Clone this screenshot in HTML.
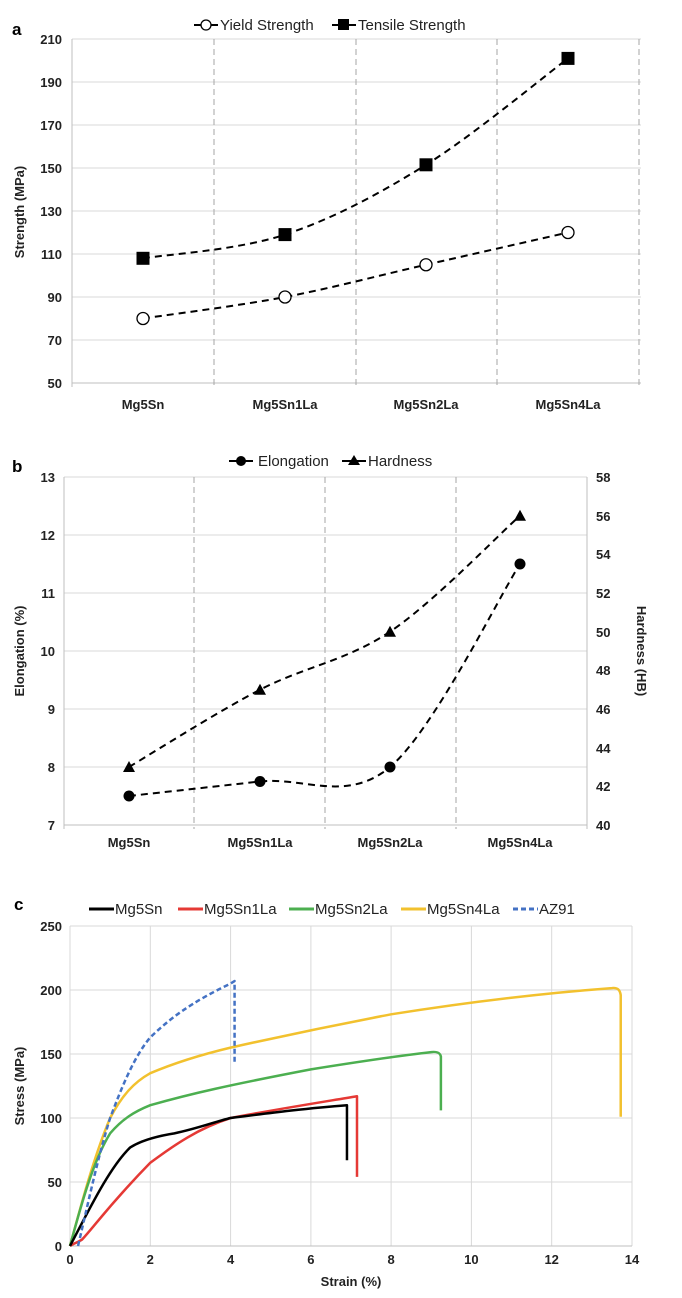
<!DOCTYPE html>
<html><head><meta charset="utf-8"><style>
html,body{margin:0;padding:0;background:#fff;}
svg{display:block;font-family:"Liberation Sans",sans-serif;}
.t{font-size:13px;font-weight:bold;fill:#222;}
.g{stroke:#d9d9d9;stroke-width:1;}
.v{stroke:#a6a6a6;stroke-width:1;stroke-dasharray:6,4;}
.d{fill:none;stroke:#000;stroke-width:2;stroke-dasharray:7,5;}
</style></head><body>
<svg width="682" height="1298" viewBox="0 0 682 1298">
<!-- Chart a -->
<text x="12" y="35" font-size="17" font-weight="bold">a</text>
<g class="g">
<line x1="72" y1="39" x2="641" y2="39"/><line x1="72" y1="82" x2="641" y2="82"/><line x1="72" y1="125" x2="641" y2="125"/><line x1="72" y1="168" x2="641" y2="168"/><line x1="72" y1="211" x2="641" y2="211"/><line x1="72" y1="254" x2="641" y2="254"/><line x1="72" y1="297" x2="641" y2="297"/><line x1="72" y1="340" x2="641" y2="340"/>
</g>
<line x1="72" y1="383" x2="641" y2="383" stroke="#bfbfbf"/>
<line x1="72" y1="39" x2="72" y2="387" stroke="#bfbfbf"/>
<g class="v"><line x1="214" y1="39" x2="214" y2="387"/><line x1="356" y1="39" x2="356" y2="387"/><line x1="497" y1="39" x2="497" y2="387"/><line x1="639" y1="39" x2="639" y2="387"/></g>
<g class="t" text-anchor="end">
<text x="62" y="44">210</text><text x="62" y="87">190</text><text x="62" y="130">170</text><text x="62" y="173">150</text><text x="62" y="216">130</text><text x="62" y="259">110</text><text x="62" y="302">90</text><text x="62" y="345">70</text><text x="62" y="388">50</text>
</g>
<g class="t" text-anchor="middle">
<text x="143" y="409">Mg5Sn</text><text x="285" y="409">Mg5Sn1La</text><text x="426" y="409">Mg5Sn2La</text><text x="568" y="409">Mg5Sn4La</text>
</g>
<text class="t" transform="translate(24,212) rotate(-90)" text-anchor="middle">Strength (MPa)</text>
<path class="d" d="M143,258.3 C166.7,254.4 237.8,250.2 285,234.6 C332.2,219 378.8,194.2 426,164.8 C473.2,135.4 544.3,76.1 568,58.4"/>
<path class="d" d="M143,318.5 C166.7,314.9 237.8,306 285,297 C332.2,288 378.8,275.5 426,264.75 C473.2,254 544.3,237.9 568,232.5"/>
<g fill="#000"><rect x="136.5" y="251.8" width="13" height="13"/><rect x="278.5" y="228.1" width="13" height="13"/><rect x="419.5" y="158.3" width="13" height="13"/><rect x="561.5" y="51.9" width="13" height="13"/></g>
<g fill="#fff" stroke="#000" stroke-width="1.3"><circle cx="143" cy="318.5" r="6"/><circle cx="285" cy="297" r="6"/><circle cx="426" cy="264.75" r="6"/><circle cx="568" cy="232.5" r="6"/></g>
<g font-size="15" fill="#222">
<line x1="194" y1="25" x2="218" y2="25" stroke="#000" stroke-width="2"/><circle cx="206" cy="25" r="5" fill="#fff" stroke="#000" stroke-width="1.3"/><text x="220" y="30">Yield Strength</text>
<line x1="332" y1="25" x2="356" y2="25" stroke="#000" stroke-width="2"/><rect x="338" y="19" width="11" height="11" fill="#000"/><text x="358" y="30">Tensile Strength</text>
</g>

<!-- Chart b -->
<text x="12" y="472" font-size="17" font-weight="bold">b</text>
<g class="g">
<line x1="64" y1="477" x2="587" y2="477"/><line x1="64" y1="535" x2="587" y2="535"/><line x1="64" y1="593" x2="587" y2="593"/><line x1="64" y1="651" x2="587" y2="651"/><line x1="64" y1="709" x2="587" y2="709"/><line x1="64" y1="767" x2="587" y2="767"/>
</g>
<line x1="64" y1="825" x2="587" y2="825" stroke="#bfbfbf"/>
<line x1="64" y1="477" x2="64" y2="829" stroke="#bfbfbf"/>
<line x1="587" y1="477" x2="587" y2="829" stroke="#bfbfbf"/>
<g class="v"><line x1="194" y1="477" x2="194" y2="829"/><line x1="325" y1="477" x2="325" y2="829"/><line x1="456" y1="477" x2="456" y2="829"/></g>
<g class="t" text-anchor="end">
<text x="55" y="482">13</text><text x="55" y="540">12</text><text x="55" y="598">11</text><text x="55" y="656">10</text><text x="55" y="714">9</text><text x="55" y="772">8</text><text x="55" y="830">7</text>
</g>
<g class="t">
<text x="596" y="482">58</text><text x="596" y="521">56</text><text x="596" y="559">54</text><text x="596" y="598">52</text><text x="596" y="637">50</text><text x="596" y="675">48</text><text x="596" y="714">46</text><text x="596" y="753">44</text><text x="596" y="791">42</text><text x="596" y="830">40</text>
</g>
<g class="t" text-anchor="middle">
<text x="129" y="847">Mg5Sn</text><text x="260" y="847">Mg5Sn1La</text><text x="390" y="847">Mg5Sn2La</text><text x="520" y="847">Mg5Sn4La</text>
</g>
<text class="t" transform="translate(24,651) rotate(-90)" text-anchor="middle">Elongation (%)</text>
<text class="t" transform="translate(637,651) rotate(90)" text-anchor="middle">Hardness (HB)</text>
<path class="d" d="M129,796 C150.8,793.6 216.5,786.3 260,781.5 C303.5,776.7 346.7,803.3 390,767 C433.3,730.8 498.3,597.8 520,564"/>
<path class="d" d="M129,767 C150.8,754.1 216.5,712.3 260,689.7 C303.5,667.1 346.7,660.7 390,631.7 C433.3,602.7 498.3,535 520,515.7"/>
<g fill="#000"><circle cx="129" cy="796" r="5.5"/><circle cx="260" cy="781.5" r="5.5"/><circle cx="390" cy="767" r="5.5"/><circle cx="520" cy="564" r="5.5"/>
<polygon points="129,761 123,772 135,772"/><polygon points="260,683.7 254,694.7 266,694.7"/><polygon points="390,625.7 384,636.7 396,636.7"/><polygon points="520,509.7 514,520.7 526,520.7"/></g>
<g font-size="15" fill="#222">
<line x1="229" y1="461" x2="253" y2="461" stroke="#000" stroke-width="2"/><circle cx="241" cy="461" r="5" fill="#000"/><text x="258" y="466">Elongation</text>
<line x1="342" y1="461" x2="366" y2="461" stroke="#000" stroke-width="2"/><polygon points="354,455 348,465 360,465" fill="#000"/><text x="368" y="466">Hardness</text>
</g>

<!-- Chart c -->
<text x="14" y="910" font-size="17" font-weight="bold">c</text>
<g class="g">
<line x1="70" y1="926" x2="632" y2="926"/><line x1="70" y1="990" x2="632" y2="990"/><line x1="70" y1="1054" x2="632" y2="1054"/><line x1="70" y1="1118" x2="632" y2="1118"/><line x1="70" y1="1182" x2="632" y2="1182"/>
<line x1="150.3" y1="926" x2="150.3" y2="1246"/><line x1="230.6" y1="926" x2="230.6" y2="1246"/><line x1="310.9" y1="926" x2="310.9" y2="1246"/><line x1="391.1" y1="926" x2="391.1" y2="1246"/><line x1="471.4" y1="926" x2="471.4" y2="1246"/><line x1="551.7" y1="926" x2="551.7" y2="1246"/><line x1="632" y1="926" x2="632" y2="1246"/>
</g>
<line x1="70" y1="1246" x2="632" y2="1246" stroke="#bfbfbf"/>
<line x1="70" y1="926" x2="70" y2="1246" stroke="#d9d9d9"/>
<g class="t" text-anchor="end">
<text x="62" y="931">250</text><text x="62" y="995">200</text><text x="62" y="1059">150</text><text x="62" y="1123">100</text><text x="62" y="1187">50</text><text x="62" y="1251">0</text>
</g>
<g class="t" text-anchor="middle">
<text x="70" y="1264">0</text><text x="150.3" y="1264">2</text><text x="230.6" y="1264">4</text><text x="310.9" y="1264">6</text><text x="391.1" y="1264">8</text><text x="471.4" y="1264">10</text><text x="551.7" y="1264">12</text><text x="632" y="1264">14</text>
<text x="351" y="1286">Strain (%)</text>
</g>
<text class="t" transform="translate(24,1086) rotate(-90)" text-anchor="middle">Stress (MPa)</text>
<g transform="translate(70,1246) scale(40.14,-1.28)" fill="none" stroke-linejoin="round">
<path vector-effect="non-scaling-stroke" stroke="#f2c12e" stroke-width="2.5" d="M0,0 C0.3,35 0.6,70 1,100 C1.3,118 1.6,128 2,135 C2.6,143 3.2,149 4,155 C5,162 6,169 8,181 C10,191 12,198 13.5,201.5 C13.65,202 13.7,200 13.72,196 L13.72,101"/>
<path vector-effect="non-scaling-stroke" stroke="#4caf50" stroke-width="2.5" d="M0,0 C0.3,35 0.6,68 1,88 C1.3,99 1.6,105 2,110 C3,119 4,126 6,138 C7,143 8,148 9,151.5 C9.15,152 9.22,151 9.24,148 L9.24,106"/>
<path vector-effect="non-scaling-stroke" stroke="#e53935" stroke-width="2.5" d="M0,0 C0.1,2 0.2,3 0.3,5 C0.6,15 1,33 2,65 C2.6,79 3.2,92 4,100 C5,106 6,111 7.15,117 L7.15,54"/>
<path vector-effect="non-scaling-stroke" stroke="#000" stroke-width="2.5" d="M0,0 C0.5,30 1,62 1.5,77 C1.8,83 2.2,86 2.6,88 C3.2,92 3.6,97 4,100 C5,104 6,108 6.9,110 L6.9,67"/>
<path vector-effect="non-scaling-stroke" stroke="#4472c4" stroke-width="2.5" stroke-dasharray="5,3" d="M0.2,0 C0.5,40 0.7,70 1,100 C1.3,125 1.6,148 2,163 C2.5,178 3,190 4,205 L4.1,207 L4.1,143"/>
</g>
<g font-size="15" fill="#222">
<line x1="89" y1="909" x2="114" y2="909" stroke="#000" stroke-width="3"/><text x="115" y="914">Mg5Sn</text>
<line x1="178" y1="909" x2="203" y2="909" stroke="#e53935" stroke-width="3"/><text x="204" y="914">Mg5Sn1La</text>
<line x1="289" y1="909" x2="314" y2="909" stroke="#4caf50" stroke-width="3"/><text x="315" y="914">Mg5Sn2La</text>
<line x1="401" y1="909" x2="426" y2="909" stroke="#f2c12e" stroke-width="3"/><text x="427" y="914">Mg5Sn4La</text>
<line x1="513" y1="909" x2="538" y2="909" stroke="#4472c4" stroke-width="3" stroke-dasharray="5,3"/><text x="539" y="914">AZ91</text>
</g>
</svg>
</body></html>
